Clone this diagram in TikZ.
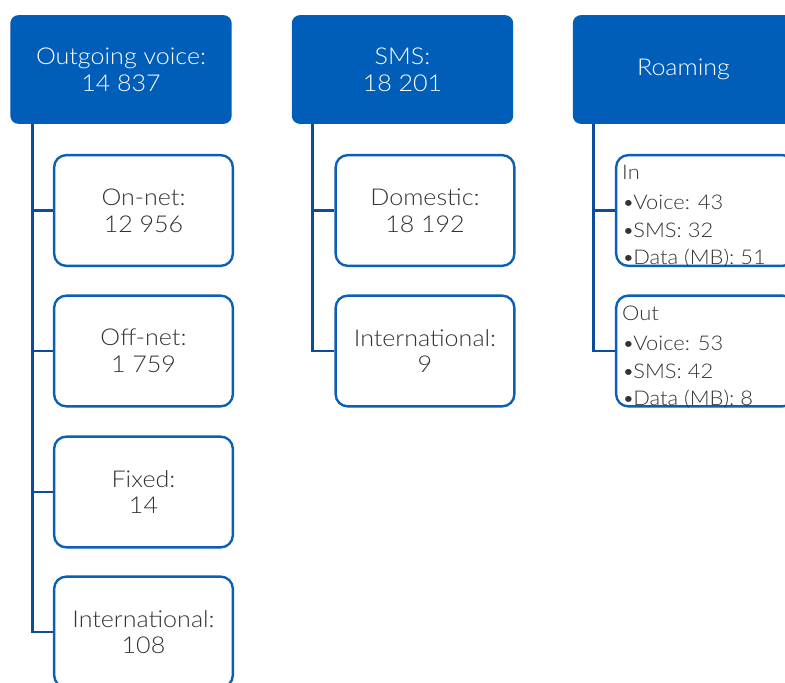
\documentclass[tikz,border=0pt]{standalone}
\usepackage{fontspec}
\setmainfont{Lato}[UprightFont=* Light, FakeStretch=1.08]
\usepackage{xcolor}
\usepackage{tikz}
\usetikzlibrary{positioning,calc}
\definecolor{headblue}{HTML}{005EB8}
\definecolor{edgeblue}{HTML}{0A5FB6}
\definecolor{lineblue}{HTML}{0B4C9C}
\definecolor{txtgray}{HTML}{333333}
\newcommand{\bul}{\textbullet\kern-1.2pt}

\begin{document}
\begin{tikzpicture}[
x=0.75pt, y=-0.75pt,
head/.style={fill=headblue, draw=none, rounded corners=6pt, text=white, align=center,
  minimum width=166pt, minimum height=81.5pt, inner sep=0pt,
  font=\fontsize{17.4}{20}\selectfont},
leaf/.style={draw=edgeblue, line width=1.8pt, fill=white, rounded corners=9pt, align=center,
  minimum width=134pt, minimum height=83pt, inner sep=0pt, text=txtgray,
  font=\fontsize{17.4}{20}\selectfont},
list/.style={anchor=north west, align=left, inner sep=0pt, text=txtgray,
  font=\fontsize{15.2}{20.6}\selectfont},
link/.style={draw=lineblue, line width=2.2pt}
]
\useasboundingbox (0,0) rectangle (785,682);
\clip (0,0) rectangle (785,682);

% Headers
\node[head] (hv) at (121,69.5) {Outgoing voice:\\14 837};
\node[head] (hs) at (402.5,69.5) {SMS:\\18 201};
\node[head] (hr) at (683.5,69.5) {Roaming};

% Outgoing voice
\node[leaf] (onnet) at (143.5,210.5) {On-net:\\12 956};
\node[leaf] (offnet) at (143.5,351) {Off-net:\\1 759};
\node[leaf] (fixed) at (143.5,492) {Fixed:\\14};
\node[leaf] (vint) at (143.5,632) {International:\\108};

% SMS
\node[leaf] (dom) at (425,210.5) {Domestic:\\18 192};
\node[leaf] (sint) at (425,351) {International:\\9};

% Roaming
\node[leaf] (rin) at (705.5,210.5) {};
\node[leaf] (rout) at (705.5,351) {};
\node[list] (inlist) at ($(rin.north west)+(7,11)$)
  {In\\[2.2pt]\bul Voice: 43\\\bul SMS: 32\\\bul Data (MB): 51};
\node[list] (outlist) at ($(rout.north west)+(7,11)$)
  {Out\\[2.2pt]\bul Voice: 53\\\bul SMS: 42\\\bul Data (MB): 8};

% Connectors
\foreach \c in {onnet,offnet,fixed,vint}
  \draw[link] ($(hv.south west)+(22,0)$) |- (\c.west);
\foreach \c in {dom,sint}
  \draw[link] ($(hs.south west)+(21,0)$) |- (\c.west);
\foreach \c in {rin,rout}
  \draw[link] ($(hr.south west)+(21,0)$) |- (\c.west);

\end{tikzpicture}
\end{document}
